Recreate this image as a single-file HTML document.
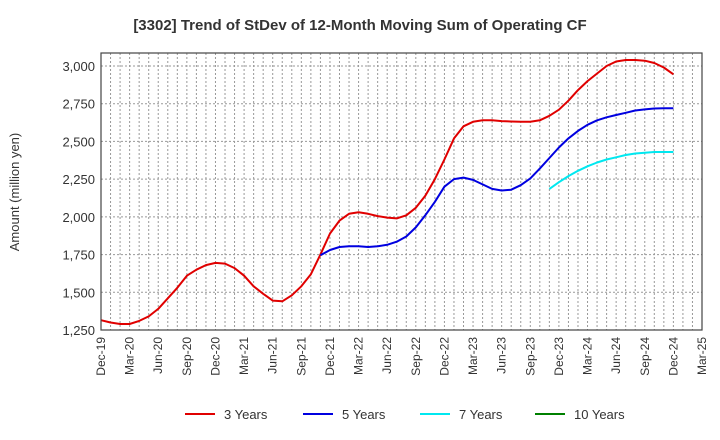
<!DOCTYPE html>
<html><head><meta charset="utf-8"><style>
body{margin:0;background:#fff;font-family:"Liberation Sans",sans-serif}
svg{display:block}
</style></head><body>
<svg id="c" width="720" height="440" xmlns="http://www.w3.org/2000/svg">
<text x="360" y="30" text-anchor="middle" font-size="15" font-weight="bold" fill="#333">[3302]  Trend of StDev of 12-Month Moving Sum of Operating CF</text>
<text transform="translate(19,192) rotate(-90)" text-anchor="middle" font-size="13" fill="#333">Amount (million yen)</text>
<g id="grid"></g><g id="series"></g><g id="axes"></g>
<g id="legend"></g>
</svg>
<script>
const xLabels=["Dec-19","Mar-20","Jun-20","Sep-20","Dec-20","Mar-21","Jun-21","Sep-21","Dec-21","Mar-22","Jun-22","Sep-22","Dec-22","Mar-23","Jun-23","Sep-23","Dec-23","Mar-24","Jun-24","Sep-24","Dec-24","Mar-25"];
const yTicks=[1250,1500,1750,2000,2250,2500,2750,3000];
const red=[1315,1300,1290,1290,1310,1340,1390,1460,1530,1610,1650,1680,1695,1690,1660,1610,1540,1490,1445,1440,1480,1540,1620,1750,1890,1975,2020,2030,2020,2005,1995,1990,2010,2060,2140,2250,2380,2520,2600,2630,2640,2640,2635,2632,2630,2630,2640,2670,2710,2770,2840,2900,2950,3000,3030,3040,3040,3035,3020,2990,2945];
const blueStart=23;
const blue=[1745,1780,1800,1805,1805,1800,1805,1815,1835,1870,1930,2010,2100,2200,2250,2260,2245,2215,2185,2175,2180,2210,2255,2320,2390,2460,2520,2570,2610,2640,2660,2675,2690,2705,2712,2718,2720,2720];
const cyanStart=47;
const cyan=[2185,2230,2270,2305,2335,2360,2380,2395,2410,2420,2425,2430,2430,2430];
const L=101,R=702,T=53,B=330,months=63;
const X=i=>L+i*(R-L)/months;
const Y=v=>B-(v-1250)*(B-66)/1750;
const NS="http://www.w3.org/2000/svg";
function mk(p,tag,attrs){const e=document.createElementNS(NS,tag);for(const k in attrs)e.setAttribute(k,attrs[k]);p.appendChild(e);return e;}
const grid=document.getElementById('grid'),axes=document.getElementById('axes'),ser=document.getElementById('series'),leg=document.getElementById('legend');
for(let i=1;i<months;i++){const l=mk(grid,'line',{x1:X(i),x2:X(i),y1:T,y2:B,stroke:'#999','stroke-dasharray':'2,2','stroke-width':1});

}
yTicks.forEach(v=>{const l=mk(grid,'line',{x1:L,x2:R,y1:Y(v),y2:Y(v),stroke:'#999','stroke-dasharray':'2,2','stroke-width':1});


const t=mk(axes,'text',{x:L-6,y:Y(v)+5,'text-anchor':'end','font-size':13,fill:'#333'});t.textContent=v.toLocaleString('en-US');

});
xLabels.forEach((s,k)=>{const x=X(k*3);const t=mk(axes,'text',{transform:`translate(${x+4},337) rotate(-90)`,'text-anchor':'end','font-size':12,fill:'#333'});t.textContent=s;

});
const fr=mk(axes,'rect',{x:L,y:T,width:R-L,height:B-T,fill:'none',stroke:'#444','stroke-width':1.2});


function line(arr,start,color,name){const pts=arr.map((v,i)=>X(start+i).toFixed(1)+','+Y(v).toFixed(1)).join(' ');
const p=mk(ser,'polyline',{points:pts,fill:'none',stroke:color,'stroke-width':2,'stroke-linejoin':'round'});

}
line(red,0,'#e00000','series-3-years');
line(blue,blueStart,'#0000e0','series-5-years');
line(cyan,cyanStart,'#00e8f0','series-7-years');
[["3 Years","#e00000",185],["5 Years","#0000e0",303],["7 Years","#00e8f0",420],["10 Years","#008000",535]].forEach(([n,c,x])=>{
const g=mk(leg,'g',{});


mk(g,'line',{x1:x,x2:x+30,y1:414,y2:414,stroke:c,'stroke-width':2});
const t=mk(g,'text',{x:x+39,y:419,'font-size':13,fill:'#333'});t.textContent=n;});
</script>
</body></html>
